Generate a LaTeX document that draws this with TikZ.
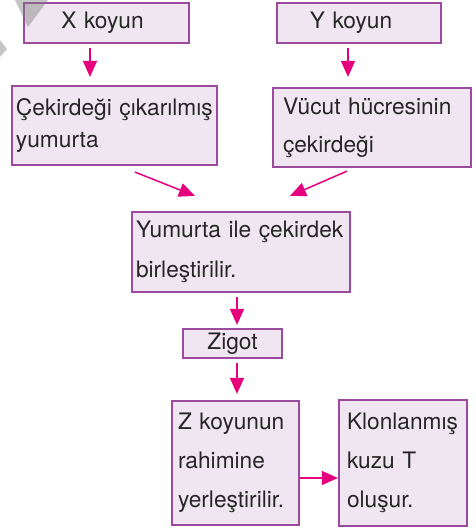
\documentclass[tikz,border=0pt]{standalone}
\usepackage{fontspec}
\setmainfont{TeX Gyre Heros}
\usetikzlibrary{arrows.meta}
\definecolor{boxfill}{HTML}{F0E6F2}
\definecolor{boxline}{HTML}{9B4A9E}
\definecolor{arrcol}{HTML}{E6007E}
\begin{document}
\begin{tikzpicture}[x=1pt,y=-1pt,
  box/.style={draw=boxline,fill=boxfill,line width=2.2pt,inner ysep=0pt,
    align=left,font=\fontsize{22.7}{39}\selectfont,text=black!85},
  arr/.style={draw=arrcol,line width=1.5pt,-{Triangle[length=16pt,width=14pt]}}]
\useasboundingbox (0,0) rectangle (475,528);
% boxes
\node[box,minimum width=165pt,minimum height=40pt,align=center,text width=157pt,inner xsep=4pt] (Xk) at (106.5,23) {X koyun\hspace*{8pt}};
\node[box,minimum width=164pt,minimum height=40pt,align=center,text width=156pt,inner xsep=4pt] (Yk) at (359,23) {Y koyun\hspace*{16pt}};
\node[box,text width=197pt,inner xsep=4pt,minimum height=79pt,font=\fontsize{22.7}{32}\selectfont] (Cek) at (114.5,125.5) {\mbox{Çekirdeği çıkarılmış}\\yumurta};
\node[box,text width=178pt,inner xsep=10pt,minimum height=79pt,font=\fontsize{22.7}{38}\selectfont] (Vuc) at (372,127.5) {Vücut hücresinin\\çekirdeği};
\node[box,text width=210pt,inner xsep=4pt,minimum height=80pt,font=\fontsize{22.7}{40}\selectfont] (Yum) at (241,252) {\mbox{Yumurta ile çekirdek}\\birleştirilir.};
\node[box,minimum width=99pt,minimum height=29pt,align=center,text width=91pt,inner xsep=4pt] (Zig) at (232.5,343.5) {Zigot};
\node[box,text width=115pt,inner xsep=6pt,minimum height=124pt] (Zk) at (235.5,463) {Z koyunun\\rahimine\\\mbox{yerleştirilir.}};
\node[box,text width=112pt,inner xsep=8pt,minimum height=126pt] (Kl) at (403,463) {\mbox{Klonlanmış}\\kuzu T\\oluşur.};
% arrows
\draw[arr] ([xshift=-16.5pt,yshift=-4pt]Xk.south) -- ([xshift=-24.5pt,yshift=8pt]Cek.north);
\draw[arr] ([xshift=-11pt,yshift=-4pt]Yk.south) -- ([xshift=-24pt,yshift=10pt]Vuc.north);
\draw[arr] ([xshift=20.5pt,yshift=-6pt]Cek.south) -- ([xshift=-46pt,yshift=15pt]Yum.north);
\draw[arr] ([xshift=-25pt,yshift=-3pt]Vuc.south) -- ([xshift=49pt,yshift=15pt]Yum.north);
\draw[arr] ([xshift=-4pt,yshift=-4pt]Yum.south) -- ([xshift=4.5pt,yshift=3pt]Zig.north);
\draw[arr] ([xshift=4.5pt,yshift=-4pt]Zig.south) -- ([xshift=1.5pt,yshift=6pt]Zk.north);
\draw[arr] ([yshift=-15pt]Zk.east) -- ([yshift=-15pt]Kl.west);
% grey corner marks
\fill[gray,opacity=0.45] (15,0) -- (48,0) -- (28,27) -- cycle;
\fill[gray,opacity=0.45] (0,40) -- (7,49) -- (0,57) -- cycle;
\end{tikzpicture}
\end{document}
